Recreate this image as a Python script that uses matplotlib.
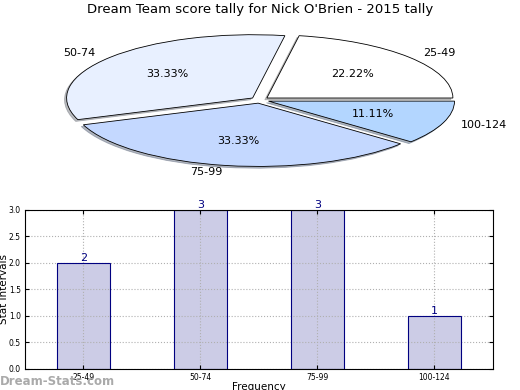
import matplotlib
matplotlib.use("Agg")
import matplotlib.pyplot as plt
import numpy as np

# Data
categories = ["25-49", "50-74", "75-99", "100-124"]
counts = [2, 3, 3, 1]
pie_colors = ["#ffffff", "#e8f0ff", "#c4d8ff", "#b3d6ff"]

fig = plt.figure(figsize=(5.2, 3.9), dpi=100)

# Pie chart (squashed, old matplotlib look)
ax1 = fig.add_axes([0.106, 0.565, 0.787, 0.357])
ax1.pie(counts, labels=categories, colors=pie_colors, autopct="%1.2f%%",
        explode=[0.05] * len(counts),
        shadow={"ox": -0.008, "oy": -0.02, "shade": 0.5}, startangle=0,
        wedgeprops=dict(edgecolor="black", linewidth=0.6),
        textprops=dict(fontsize=8))
ax1.set_aspect("auto")
ax1.set_xlim(-1.1, 1.1)
ax1.set_ylim(-1.1, 1.1)
fig.text(0.5, 0.975, "Dream Team score tally for Nick O'Brien - 2015 tally",
         ha="center", va="center", fontsize=9.5)

# Bar chart
ax2 = fig.add_axes([0.048, 0.054, 0.9, 0.408])
x = np.arange(len(categories))
# fill below the grid, outline above it
ax2.bar(x, counts, 0.45, color="#ccccE6", linewidth=0, zorder=1)
ax2.bar(x, counts, 0.45, fill=False, edgecolor="navy", linewidth=0.8, zorder=4)
for xi, c in zip(x, counts):
    ax2.text(xi, c, str(c), ha="center", va="bottom", color="navy", fontsize=8)
ax2.set_xlim(-0.5, 3.5)
ax2.set_ylim(0, 3)
ax2.set_yticks(np.arange(0, 3.01, 0.5))
ax2.set_xticks(x)
ax2.set_xticklabels(categories)
ax2.tick_params(labelsize=5.5, direction="in", right=True, top=True, length=3, pad=3)
ax2.grid(True, linestyle=":", color="#b0b0b0", linewidth=0.8)
ax2.set_axisbelow(False)
for sp in ax2.spines.values():
    sp.set_zorder(5)
ax2.set_xlabel("Frequency", fontsize=7.5, labelpad=0)
ax2.set_ylabel("Stat intervals", fontsize=7.5, labelpad=0)

fig.text(0.0, 0.022, "Dream-Stats.com", color="#aaaaaa", fontsize=8.5,
         fontweight="bold", ha="left", va="center")

fig.savefig("out.png", dpi=100)
